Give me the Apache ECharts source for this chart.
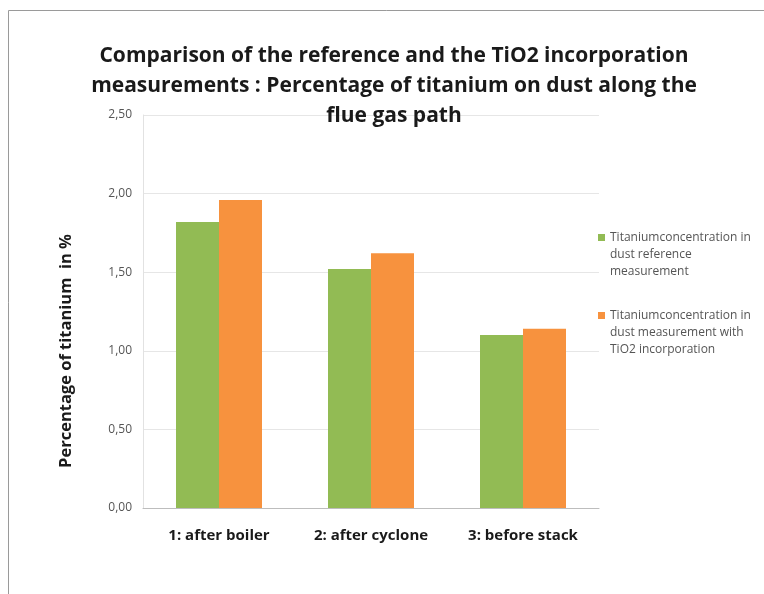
<!DOCTYPE html>
<html>
<head>
<meta charset="utf-8">
<script src="https://cdn.jsdelivr.net/npm/echarts@6/dist/echarts.min.js"></script>
<style>
  html, body { margin: 0; padding: 0; background: #fff; }
  #chart { width: 764px; height: 594px; }
</style>
</head>
<body>
<div id="chart"></div>
<script>
// Sampling points along the flue gas path
const categories = ['1: after boiler', '2: after cyclone', '3: before stack'];
// Titanium on dust, % (reference run vs. run with TiO2 incorporation)
const referenceValues = [1.82, 1.52, 1.10];
const tio2Values = [1.96, 1.62, 1.14];
const seriesNames = [
  'Titaniumconcentration in\ndust reference\nmeasurement',
  'Titaniumconcentration in\ndust measurement with\nTiO2 incorporation'
];
const yTicks = [0, 0.5, 1.0, 1.5, 2.0, 2.5];

const chart = echarts.init(document.getElementById('chart'));

// Legend marker: a small square sitting beside the first line of a three-line label
// (tiny invisible dots stretch the path box to the full label height).
const legendIcon = 'path://M0,0h0.01v0.01h-0.01z M0,5h7v7h-7z M0,51h0.01v0.01h-0.01z';

const option = {
  backgroundColor: '#ffffff',
  animation: false,
  title: {
    text: 'Comparison of the reference and the TiO2 incorporation\nmeasurements : Percentage of titanium on dust along the\nflue gas path',
    left: 389,
    textAlign: 'center',
    top: 36,
    textStyle: {
      fontFamily: 'Open Sans',
      fontWeight: 'bold',
      fontSize: 21,
      lineHeight: 30,
      color: '#1a1a1a'
    }
  },
  graphic: [
    {
      type: 'rect',
      shape: { x: 8.5, y: 10.5, width: 800, height: 640 },
      style: { fill: 'none', stroke: '#9a9a9a', lineWidth: 1 },
      silent: true
    },
    {
      // y-axis title
      type: 'text',
      x: 66,
      y: 351,
      rotation: Math.PI / 2,
      style: {
        text: 'Percentage of titanium  in %',
        fontFamily: 'Open Sans',
        fontWeight: 'bold',
        fontSize: 16.5,
        fill: '#1a1a1a',
        align: 'center',
        verticalAlign: 'middle'
      },
      silent: true
    }
  ],
  legend: {
    orient: 'vertical',
    left: 593,
    top: 224,
    itemWidth: 7,
    itemHeight: 51,
    itemGap: 27,
    itemTextGap: 4,
    icon: legendIcon,
    data: seriesNames,
    textStyle: {
      fontFamily: 'Open Sans',
      fontSize: 12,
      color: '#555',
      lineHeight: 17
    }
  },
  grid: {
    left: 143,
    right: 165,
    top: 115,
    bottom: 86,
    containLabel: false
  },
  xAxis: {
    type: 'category',
    data: categories,
    axisLine: { lineStyle: { color: '#bdbdbd', width: 1 } },
    axisTick: { show: false },
    axisLabel: {
      interval: 0,
      fontFamily: 'Open Sans',
      fontWeight: 'bold',
      fontSize: 15,
      color: '#1a1a1a',
      margin: 20
    }
  },
  yAxis: {
    type: 'value',
    min: yTicks[0],
    max: yTicks[yTicks.length - 1],
    interval: 0.5,
    axisLine: { show: true, lineStyle: { color: '#e2e2e2' } },
    axisTick: { show: false },
    splitLine: { lineStyle: { color: '#e6e6e6' } },
    axisLabel: {
      fontFamily: 'Open Sans',
      fontSize: 12,
      color: '#555',
      margin: 11,
      formatter: v => v.toFixed(2).replace('.', ',')
    }
  },
  series: [
    {
      name: seriesNames[0],
      type: 'bar',
      data: referenceValues,
      barWidth: 43,
      barGap: '0%',
      itemStyle: { color: '#92bb54' }
    },
    {
      name: seriesNames[1],
      type: 'bar',
      data: tio2Values,
      barWidth: 43,
      barGap: '0%',
      itemStyle: { color: '#f7923e' }
    }
  ]
};

chart.setOption(option);
</script>
</body>
</html>
